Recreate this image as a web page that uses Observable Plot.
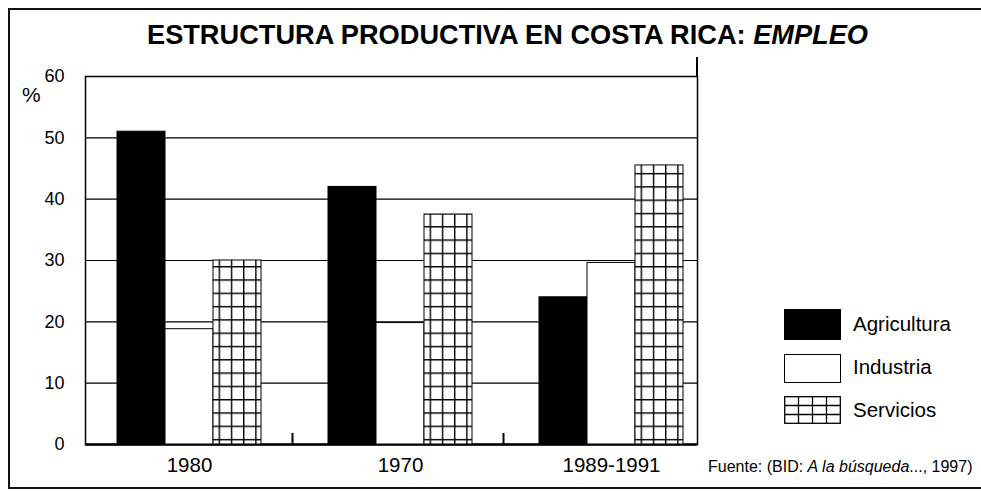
<!DOCTYPE html>
<html><head><meta charset="utf-8">
<script src="https://cdn.jsdelivr.net/npm/d3@7"></script>
<script src="https://cdn.jsdelivr.net/npm/@observablehq/plot@0.6"></script>
<style>
body{margin:0;background:#fff;}
#wrap{position:relative;width:981px;height:491px;overflow:hidden;font-family:"Liberation Sans",Arial,Helvetica,sans-serif;color:#000;background:#fff;}
#border{position:absolute;left:8px;top:8px;width:990px;height:481px;border:2px solid #111;box-sizing:border-box;}
.layer{position:absolute;left:0;top:0;}
.t{position:absolute;white-space:nowrap;line-height:1;}
#title{left:147px;top:21px;font-size:27.2px;font-weight:bold;}
#pct{left:22px;top:84px;font-size:21px;}
#src{left:708px;top:459px;font-size:16px;}
.lg{position:absolute;left:784px;width:57px;box-sizing:border-box;}
.ll{position:absolute;left:853px;font-size:20.5px;line-height:1;white-space:nowrap;}
#rline{position:absolute;left:696px;top:57px;width:2px;height:20px;background:#000;}
</style></head>
<body><div id="wrap">
<div id="border"></div>
<div class="layer" id="under"></div>
<div class="layer" id="over"></div>
<div id="rline"></div>
<div class="t" id="title">ESTRUCTURA PRODUCTIVA EN COSTA RICA: <i>EMPLEO</i></div>
<div class="t" id="pct">%</div>
<div class="t" id="src">Fuente: (BID: <i>A la búsqueda</i>..., 1997)</div>
<div id="legend"></div>
</div>
<script>
const years = ["1980", "1970", "1989-1991"];
const series = ["Agricultura", "Industria", "Servicios"];
const agricultura = [51, 42, 24];
const industria = [18.8, 19.8, 29.6];
const servicios = [30, 37.5, 45.5];
const yTicks = [0, 10, 20, 30, 40, 50, 60];
const separators = ["1980", "1970"];

const data = years.flatMap((y, i) => [
  {year: y, series: "Agricultura", value: agricultura[i]},
  {year: y, series: "Industria", value: industria[i]},
  {year: y, series: "Servicios", value: servicios[i]}
]);

const common = {
  width: 981, height: 491,
  marginLeft: 85, marginRight: 284, marginTop: 76, marginBottom: 47,
  style: {background: "transparent", fontFamily: "'Liberation Sans', Arial, sans-serif", fontSize: "18px", color: "#000"}
};

// layer 1: frame, gridlines, y axis
const under = Plot.plot({
  ...common,
  y: {domain: [0, 60], ticks: yTicks, tickSize: 0, tickPadding: 21, label: null},
  marks: [
    Plot.ruleY(yTicks.filter(d => d > 0), {stroke: "#000", strokeWidth: 1.2}),
    Plot.frame({stroke: "#000", strokeWidth: 1.5}),
    Plot.ruleY([0], {stroke: "#000", strokeWidth: 2.5})
  ]
});

// layer 2: bars, categories
const over = Plot.plot({
  ...common,
  y: {domain: [0, 60], axis: null},
  fx: {domain: years, range: [117, 683], paddingInner: 0.318, paddingOuter: 0, label: null, axis: "bottom", tickSize: 0, tickPadding: 13},
  x: {domain: series, padding: 0, axis: null},
  color: {type: "ordinal", domain: series, range: ["#000", "#fff", "url(#grid)"]},
  marks: [
    Plot.barY(data, {fx: "year", x: "series", y: "value", fill: "series", stroke: "#000", strokeWidth: 1}),
    Plot.ruleX(separators, {fx: d => d, x: () => "Servicios", y1: 0, y2: 1.8, dx: 55, stroke: "#000", strokeWidth: 2})
  ]
});

const ns = "http://www.w3.org/2000/svg";
const defs = document.createElementNS(ns, "defs");
defs.innerHTML = `<pattern id="grid" patternUnits="userSpaceOnUse" x="211" y="0" width="12.2" height="13.3">
<rect width="12.2" height="13.3" fill="#fff"/>
<path d="M0 0.7H12.2M0.7 0V13.3" stroke="#000" stroke-width="1.4"/></pattern>`;
over.insertBefore(defs, over.firstChild);
under.querySelectorAll("text").forEach(t => { t.setAttribute("fill", "#000"); t.style.fontSize = "18px"; });
over.querySelectorAll("text").forEach(t => { t.setAttribute("fill", "#000"); t.style.fontSize = "20.5px"; });
document.getElementById("under").appendChild(under);
document.getElementById("over").appendChild(over);

// legend
const legend = document.getElementById("legend");
const sw = [
  {top: 309, h: 31, html: `<div style="width:100%;height:100%;background:#000"></div>`},
  {top: 354, h: 29, html: `<div style="width:100%;height:100%;border:1.5px solid #000;box-sizing:border-box;background:#fff"></div>`},
  {top: 396, h: 28, html: `<svg width="57" height="28"><rect x="0.7" y="0.7" width="55.6" height="26.6" fill="#fff" stroke="#000" stroke-width="1.3"/><path d="M14.5 0V28M28.5 0V28M42.5 0V28M0 9.5H57M0 18.5H57" stroke="#000" stroke-width="1.3"/></svg>`}
];
const labTop = [314, 357, 400];
series.forEach((s, i) => {
  const b = document.createElement("div");
  b.className = "lg";
  b.style.top = sw[i].top + "px";
  b.style.height = sw[i].h + "px";
  b.innerHTML = sw[i].html;
  legend.appendChild(b);
  const l = document.createElement("div");
  l.className = "ll";
  l.style.top = labTop[i] + "px";
  l.textContent = s;
  legend.appendChild(l);
});
</script>
</body></html>
